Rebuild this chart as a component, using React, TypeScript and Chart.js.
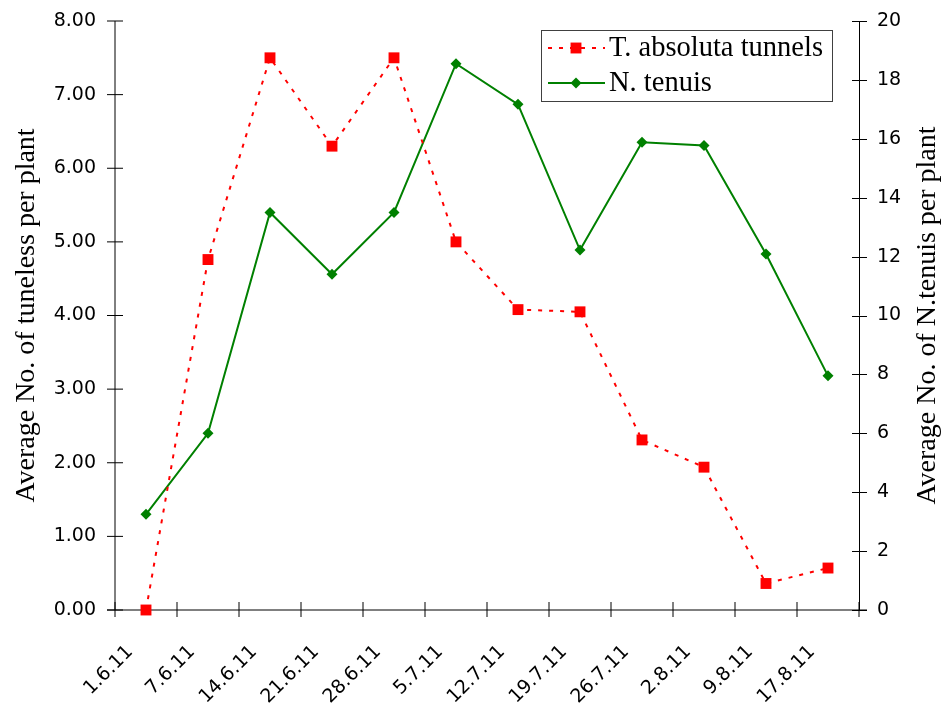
import { useEffect, useRef } from 'react';
import { Chart, registerables } from 'chart.js';

Chart.register(...registerables);

// Sampling dates (x categories)
const dates = [
  '1.6.11', '7.6.11', '14.6.11', '21.6.11', '28.6.11', '5.7.11',
  '12.7.11', '19.7.11', '26.7.11', '2.8.11', '9.8.11', '17.8.11',
];

// Average number of T. absoluta tunnels per plant (left axis)
const tunnelsPerPlant = [0.0, 4.76, 7.5, 6.3, 7.5, 5.0, 4.08, 4.05, 2.31, 1.94, 0.36, 0.57];

// Average number of N. tenuis per plant (right axis)
const tenuisPerPlant = [3.25, 6.0, 13.5, 11.4, 13.5, 18.55, 17.17, 12.22, 15.88, 15.77, 12.09, 7.95];

// Axis tick values
const leftTicks = [0, 1, 2, 3, 4, 5, 6, 7, 8];
const rightTicks = [0, 2, 4, 6, 8, 10, 12, 14, 16, 18, 20];

const leftTitle = 'Average No. of tuneless per plant';
const rightTitle = 'Average No. of N.tenuis per plant';

const SERIF = '"Liberation Serif", "Times New Roman", serif';
const SANS = '"DejaVu Sans", Verdana, sans-serif';

const RED = '#ff0000';
const GREEN = '#008000';

// Fixed box sizes so the plot area sits where the axes belong
const fixBox = (size: { width?: number; height?: number }) => (s: any) => {
  if (size.width !== undefined) s.width = size.width;
  if (size.height !== undefined) s.height = size.height;
  s.paddingTop = 0;
  s.paddingBottom = 0;
  s.paddingLeft = 0;
  s.paddingRight = 0;
};

// Axis lines with tick marks crossing them, drawn beneath the series
const axesFrame = {
  id: 'axesFrame',
  beforeDatasetsDraw(chart: any) {
    const { ctx, chartArea: a, scales } = chart;
    const xs = scales.x;
    const yl = scales.yLeft;
    const yr = scales.yRight;
    ctx.save();
    ctx.lineWidth = 1;
    ctx.strokeStyle = '#000';

    // left axis
    ctx.beginPath();
    ctx.moveTo(a.left, a.top);
    ctx.lineTo(a.left, a.bottom);
    leftTicks.forEach((v) => {
      const y = yl.getPixelForValue(v);
      ctx.moveTo(a.left - 8, y);
      ctx.lineTo(a.left + 8, y);
    });
    ctx.stroke();

    // bottom axis
    ctx.beginPath();
    ctx.moveTo(a.left - 8, a.bottom);
    ctx.lineTo(a.right + 8, a.bottom);
    const step = xs.getPixelForValue(1) - xs.getPixelForValue(0);
    for (let i = 0; i <= dates.length; i++) {
      const x = xs.getPixelForValue(0) - step / 2 + i * step;
      ctx.moveTo(x, a.bottom - 8);
      ctx.lineTo(x, a.bottom + 7);
    }
    ctx.stroke();

    // right axis
    ctx.beginPath();
    const rx = a.right + 0.5;
    ctx.moveTo(rx, a.top);
    ctx.lineTo(rx, a.bottom);
    rightTicks.forEach((v) => {
      const y = Math.round(yr.getPixelForValue(v)) + 0.5;
      ctx.moveTo(rx - 7.5, y);
      ctx.lineTo(rx + 7.5, y);
    });
    ctx.stroke();
    ctx.restore();
  },
  afterDraw(chart: any) {
    const { ctx, chartArea: a } = chart;
    ctx.save();
    // right axis title, reading bottom to top
    ctx.font = `28px ${SERIF}`;
    ctx.fillStyle = '#000';
    ctx.textAlign = 'center';
    ctx.textBaseline = 'middle';
    ctx.translate(928, (a.top + a.bottom) / 2);
    ctx.rotate(-Math.PI / 2);
    ctx.fillText(rightTitle, 0, 0);
    ctx.restore();

    // legend box
    const bx = 541.5, by = 30.5, bw = 291, bh = 71;
    ctx.save();
    ctx.fillStyle = '#fff';
    ctx.fillRect(bx, by, bw, bh);
    ctx.strokeStyle = '#404040';
    ctx.lineWidth = 1;
    ctx.strokeRect(bx, by, bw, bh);

    const rows = chart.data.datasets.map((ds: any, i: number) => ({ ds, y: 48 + i * 35 }));
    rows.forEach(({ ds, y }: any) => {
      ctx.save();
      ctx.strokeStyle = ds.borderColor;
      ctx.lineWidth = ds.borderWidth;
      ctx.setLineDash(ds.borderDash || []);
      ctx.beginPath();
      ctx.moveTo(548, y);
      ctx.lineTo(605, y);
      ctx.stroke();
      ctx.setLineDash([]);
      ctx.fillStyle = ds.pointBackgroundColor;
      ctx.beginPath();
      if (ds.pointStyle === 'rect') {
        const s = ds.pointRadius * Math.SQRT1_2;
        ctx.rect(576 - s, y - s, 2 * s, 2 * s);
      } else {
        const r = ds.pointRadius;
        ctx.moveTo(576 - r, y);
        ctx.lineTo(576, y - r);
        ctx.lineTo(576 + r, y);
        ctx.lineTo(576, y + r);
        ctx.closePath();
      }
      ctx.fill();
      ctx.restore();
      ctx.font = `28.5px ${SERIF}`;
      ctx.fillStyle = '#000';
      ctx.textAlign = 'left';
      ctx.textBaseline = 'middle';
      ctx.fillText(ds.label, 609, y + 1);
    });
    ctx.restore();
  },
};

export default function App() {
  const canvasRef = useRef<HTMLCanvasElement | null>(null);

  useEffect(() => {
    if (!canvasRef.current) return;
    const chart = new Chart(canvasRef.current, {
      type: 'line',
      data: {
        labels: dates,
        datasets: [
          {
            label: 'T. absoluta tunnels',
            data: tunnelsPerPlant,
            yAxisID: 'yLeft',
            borderColor: RED,
            backgroundColor: RED,
            borderWidth: 2,
            borderDash: [4, 7],
            pointStyle: 'rect',
            pointRadius: 7.7,
            pointBackgroundColor: RED,
            pointBorderColor: RED,
            pointBorderWidth: 0,
            tension: 0,
            clip: false,
          },
          {
            label: 'N. tenuis',
            data: tenuisPerPlant,
            yAxisID: 'yRight',
            borderColor: GREEN,
            backgroundColor: GREEN,
            borderWidth: 2,
            pointStyle: 'rectRot',
            pointRadius: 5.5,
            pointBackgroundColor: GREEN,
            pointBorderColor: GREEN,
            pointBorderWidth: 0,
            tension: 0,
            clip: false,
          },
        ],
      },
      options: {
        responsive: false,
        animation: false,
        devicePixelRatio: 1,
        layout: { padding: { top: 21, left: 0, right: 0, bottom: 0 } },
        plugins: {
          legend: { display: false },
          tooltip: { enabled: false },
        },
        scales: {
          x: {
            type: 'category',
            offset: true,
            grid: { display: false, offset: true, drawTicks: false },
            border: { display: false },
            ticks: {
              autoSkip: false,
              maxRotation: 45,
              minRotation: 45,
              padding: 31,
              labelOffset: -16,
              color: '#000',
              font: { family: SANS, size: 19 },
            },
            afterFit: fixBox({ height: 95 }),
          },
          yLeft: {
            type: 'linear',
            position: 'left',
            min: 0,
            max: 8,
            grid: { display: false, drawTicks: false },
            border: { display: false },
            afterBuildTicks: (s: any) => {
              s.ticks = leftTicks.map((v) => ({ value: v }));
            },
            ticks: {
              padding: 19,
              color: '#000',
              font: { family: SANS, size: 19 },
              callback: (v: any) => Number(v).toFixed(2),
            },
            title: {
              display: true,
              text: leftTitle,
              color: '#000',
              font: { family: SERIF, size: 28 },
              padding: { top: 10, bottom: 0 },
            },
            afterFit: fixBox({ width: 115 }),
          },
          yRight: {
            type: 'linear',
            position: 'right',
            min: 0,
            max: 20,
            grid: { display: false, drawTicks: false },
            border: { display: false },
            afterBuildTicks: (s: any) => {
              s.ticks = rightTicks.map((v) => ({ value: v }));
            },
            ticks: {
              padding: 18,
              color: '#000',
              font: { family: SANS, size: 19 },
              callback: (v: any) => String(v),
            },
            afterFit: fixBox({ width: 83 }),
          },
        },
      },
      plugins: [axesFrame],
    });
    return () => chart.destroy();
  }, []);

  return (
    <div style={{ position: 'absolute', left: 0, top: 0, width: 942, height: 705, background: '#fff' }}>
      <canvas ref={canvasRef} width={942} height={705} style={{ display: 'block' }} />
    </div>
  );
}
